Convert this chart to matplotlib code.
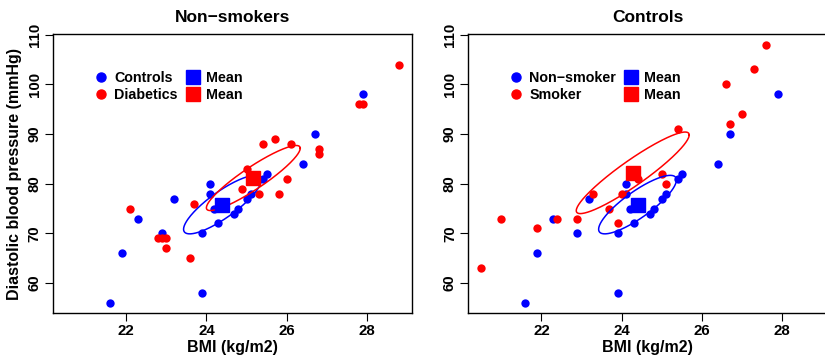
import numpy as np
import matplotlib
matplotlib.use('Agg')
from matplotlib.pylab import plt
from matplotlib.lines import Line2D

plt.rcParams['font.family'] = ['Liberation Sans', 'DejaVu Sans']
plt.rcParams['font.weight'] = 'bold'

# non-smokers: controls vs diabetics
ctrl_bmi = [21.6, 21.9, 22.3, 22.9, 23.2, 23.9, 23.9, 24.1, 24.1, 24.2,
            24.3, 24.7, 24.8, 25.0, 25.1, 25.4, 25.5, 26.4, 26.7, 27.9]
ctrl_dbp = [56, 66, 73, 70, 77, 70, 58, 80, 78, 75,
            72, 74, 75, 77, 78, 81, 82, 84, 90, 98]
diab_bmi = [22.1, 22.8, 22.9, 23.0, 23.0, 23.6, 23.7, 24.9, 25.0, 25.3,
            25.4, 25.7, 25.8, 26.0, 26.1, 26.8, 26.8, 27.8, 27.9, 28.8]
diab_dbp = [75, 69, 69, 69, 67, 65, 76, 79, 83, 78,
            88, 89, 78, 81, 88, 87, 86, 96, 96, 104]

# controls: smokers
smk_bmi = [20.5, 21.0, 21.9, 22.4, 22.9, 23.3, 23.7, 23.9, 24.0, 24.4,
           25.0, 25.1, 25.4, 26.6, 26.7, 27.0, 27.3, 27.6]
smk_dbp = [63, 73, 71, 73, 73, 78, 75, 72, 78, 81,
           82, 80, 91, 100, 92, 94, 103, 108]

# group means
mean_ctrl = [24.4, 75.8]
mean_diab = [25.17, 81.15]
mean_smk = [24.28, 82.2]

xticks = [22, 24, 26, 28]
yticks = [60, 70, 80, 90, 100, 110]
xlim = (20.168, 29.132)
ylim = (53.92, 110.08)
fs = 10.8


def conf_ellipse(x, y, centre, level=0.95):
    # Hotelling confidence region for the mean
    x = np.asarray(x)
    y = np.asarray(y)
    n = len(x)
    d2 = n - 2
    fq = d2 / 2 * ((1 - level) ** (-2 / d2) - 1)
    c = np.sqrt(2 * (n - 1) / (n * d2) * fq)
    cov = np.cov(x, y)
    L = np.linalg.cholesky(cov)
    t = np.linspace(0, 2 * np.pi, 200)
    pts = L @ np.vstack([np.cos(t), np.sin(t)]) * c
    return centre[0] + pts[0], centre[1] + pts[1]


def panel(ax, xa, ya, xb, yb, ma, mb, title, labels):
    ax.scatter(xa, ya, s=36, color='blue', zorder=3, linewidths=0)
    ax.scatter(xb, yb, s=36, color='red', zorder=3, linewidths=0)
    ex, ey = conf_ellipse(xa, ya, ma)
    ax.plot(ex, ey, color='blue', lw=1.1, zorder=4)
    ex, ey = conf_ellipse(xb, yb, mb)
    ax.plot(ex, ey, color='red', lw=1.1, zorder=4)
    ax.plot([ma[0]], [ma[1]], marker='s', ms=9.5, color='blue', ls='none', zorder=5)
    ax.plot([mb[0]], [mb[1]], marker='s', ms=9.5, color='red', ls='none', zorder=5)
    ax.set_xlim(xlim)
    ax.set_ylim(ylim)
    ax.set_xticks(xticks)
    ax.set_yticks(yticks)
    ax.tick_params(length=6, width=0.8, labelsize=fs, pad=2)
    for lab in ax.get_yticklabels():
        lab.set_rotation(90)
        lab.set_va('center')
    for sp in ax.spines.values():
        sp.set_linewidth(1.0)
    ax.set_title(title, fontsize=12.5, fontweight='bold', pad=9)
    ax.set_xlabel('BMI (kg/m2)', fontsize=11.5, fontweight='bold', labelpad=1)
    handles = [Line2D([], [], marker='o', color='blue', ls='none', ms=6.5),
               Line2D([], [], marker='o', color='red', ls='none', ms=6.5),
               Line2D([], [], marker='s', color='blue', ls='none', ms=9.5),
               Line2D([], [], marker='s', color='red', ls='none', ms=9.5)]
    ax.legend(handles, labels + ['Mean', 'Mean'], ncol=2, frameon=False,
              loc='upper left', bbox_to_anchor=(0.095, 0.895), fontsize=10.3,
              handlelength=1.0, handletextpad=0.4, columnspacing=0.55,
              labelspacing=0.2, borderpad=0)


fig = plt.figure(figsize=(8.25, 3.57), dpi=100)
ax1 = fig.add_axes([0.0642, 0.1224, 0.4352, 0.7815])
ax2 = fig.add_axes([0.5673, 0.1224, 0.4352, 0.7815])

panel(ax1, ctrl_bmi, ctrl_dbp, diab_bmi, diab_dbp, mean_ctrl, mean_diab,
      'Non\u2212smokers', ['Controls', 'Diabetics'])
ax1.set_ylabel('Diastolic blood pressure (mmHg)', fontsize=11.5,
               fontweight='bold', labelpad=4)

panel(ax2, ctrl_bmi, ctrl_dbp, smk_bmi, smk_dbp, mean_ctrl, mean_smk,
      'Controls', ['Non\u2212smoker', 'Smoker'])

plt.savefig('out.png', dpi=100)
